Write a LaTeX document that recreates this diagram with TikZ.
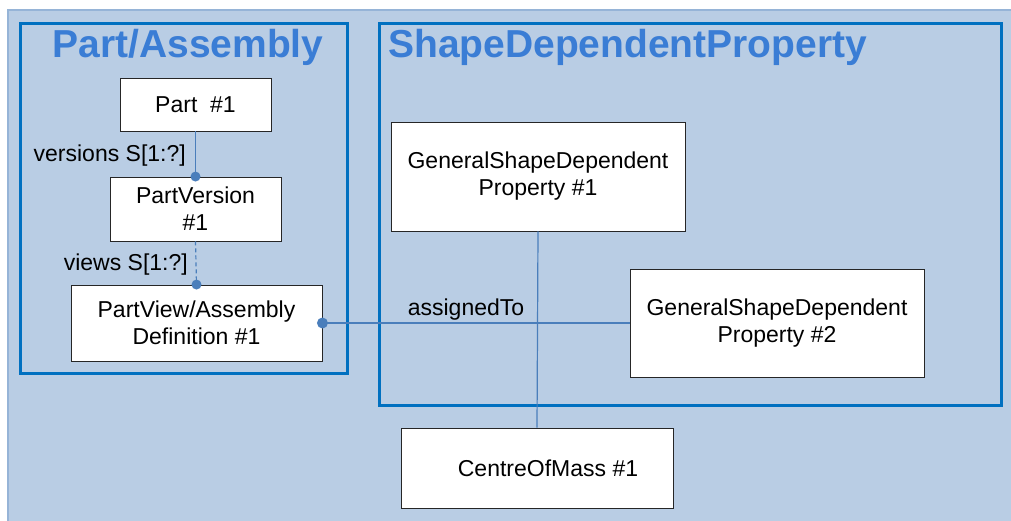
\documentclass[tikz,border=0pt]{standalone}
\usepackage{fontspec}
\setmainfont{Liberation Sans}
\definecolor{bgblue}{RGB}{185,205,228}
\definecolor{bgedge}{RGB}{150,180,215}
\definecolor{frameblue}{RGB}{0,112,192}
\definecolor{titleblue}{RGB}{58,125,213}
\definecolor{linkblue}{RGB}{74,126,187}
\begin{document}
\begin{tikzpicture}[x=1pt,y=-1pt,
  box/.style={draw=black!85,line width=0.9pt,fill=white,align=center,inner sep=0pt,
    font=\fontsize{23}{27}\selectfont},
  frame/.style={draw=frameblue,line width=3pt},
  title/.style={text=titleblue,font=\fontsize{39}{42}\selectfont\bfseries,inner sep=0pt},
  lbl/.style={font=\fontsize{23}{26}\selectfont,inner sep=0pt},
  link/.style={draw=linkblue,line width=1.2pt},
  thicklink/.style={draw=linkblue,line width=2.4pt},
  dotend/.style={fill=linkblue,draw=none}]
\useasboundingbox (0,0) rectangle (1011,520);
% background
\fill[bgblue] (8,10) rectangle (1013,522);
\draw[bgedge,line width=2pt] (8,522) -- (8,10) -- (1013,10);
% frames
\draw[frame] (20,23) rectangle (347,373);
\draw[frame] (379,23) rectangle (1001,405);
\node[title,anchor=center] (t1) at (188,47) {Part/Assembly};
\node[title,anchor=west] (t2) at (388,47) {ShapeDependentProperty};
% nodes
\node[box,minimum width=151pt,minimum height=53pt] (part) at (195.5,104.5) {Part\ \ \#1};
\node[box,minimum width=171pt,minimum height=64pt] (pver) at (195.5,209) {PartVersion\\\#1};
\node[box,minimum width=251pt,minimum height=76pt] (pview) at (196.5,323) {PartView/Assembly\\Definition \#1};
\node[box,minimum width=294pt,minimum height=109pt] (g1) at (538,176.5) {GeneralShapeDependent\\Property \#1};
\node[box,minimum width=294pt,minimum height=108pt] (g2) at (777,323) {GeneralShapeDependent\\Property \#2};
\node[box,minimum width=272pt,minimum height=80pt] (com) at (537,468) {\hspace*{22pt}CentreOfMass \#1};
% connectors
\draw[link] (part.south -| pver.north) -- (pver.north);
\fill[dotend] (pver.north) circle (5pt);
\node[lbl,anchor=east] (lv) at (186,156) {versions S[1:?]};
\draw[link,dashed,dash pattern=on 4pt off 3pt] (pver.south) -- (pview.north);
\fill[dotend] (pview.north) circle (5pt);
\node[lbl,anchor=east] (lw) at (188,265) {views S[1:?]};
\coordinate (cross) at (g1.south |- pview.east);
\draw[link] (g1.south) -- (com.north);
\draw[thicklink] (pview.east) -- (cross);
\draw[link] (cross) -- (g2.west);
\fill[dotend] (pview.east) circle (5.5pt);
\node[lbl] (la) at (466,310) {assignedTo};
\end{tikzpicture}
\end{document}
